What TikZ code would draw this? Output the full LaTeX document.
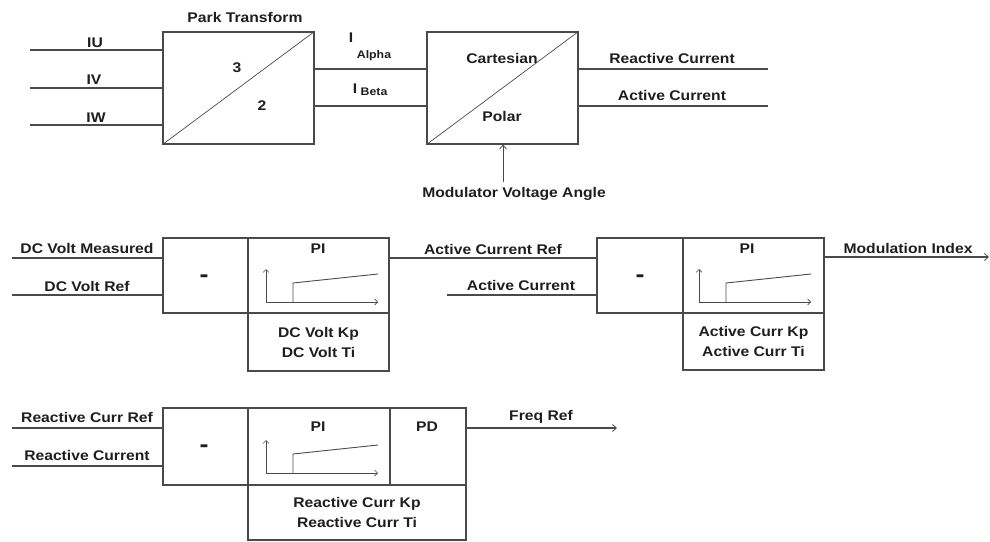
\documentclass[tikz,border=0pt]{standalone}
\usepackage{fontspec}
\setmainfont{Liberation Sans}[FakeStretch=1.12]
\usetikzlibrary{arrows.meta}
\definecolor{linec}{HTML}{4A4A4A}
\definecolor{txtc}{HTML}{1E1E1E}
\newcommand\mypigraph[2]{%
  \begin{scope}[shift={(#1,#2)}]
    \draw[thin, draw=linec, -{Straight Barb[length=3pt,width=6pt,line width=0.6pt]}] (0,0) -- (0,-33);
    \draw[thin, draw=linec, -{Straight Barb[length=3pt,width=6pt,line width=0.6pt]}] (0,0) -- (112,0);
    \draw[line width=0.9pt, draw=linec] (27,0) -- (27,-19) -- (112,-28);
  \end{scope}}
\begin{document}
\begin{tikzpicture}[x=1pt,y=-1pt,
  font=\fontsize{14}{20}\selectfont\bfseries,
  ln/.style={draw=linec, line width=1.1pt},
  blk/.style={draw=linec, line width=1.1pt, rectangle, inner sep=0pt, align=center, text=txtc},
  lbl/.style={text=txtc, inner sep=0pt},
  minus/.style={text=txtc, inner sep=0pt, font=\fontsize{24}{24}\selectfont\bfseries},
  sub/.style={text=txtc, inner sep=0pt, font=\fontsize{11}{13}\selectfont\bfseries},
  arr/.style={-{Straight Barb[length=4pt,width=7pt,line width=0.8pt]}}]
\useasboundingbox (0,0) rectangle (990,541);

% ---------------- top row ----------------
\node[blk, minimum width=151pt, minimum height=112pt] (park) at (238.5,88) {};
\draw[draw=linec, line width=0.7pt] (park.south west) -- (park.north east);
\node[lbl] (parkt) at (245,17) {Park Transform};
\node[lbl] (three) at (237,68) {3};
\node[lbl] (two) at (262,106) {2};

\coordinate (iu) at (30,50);
\coordinate (iv) at (30,88);
\coordinate (iw) at (30,125);
\draw[ln] (iu) -- (iu -| park.west);
\draw[ln] (iv) -- (iv -| park.west);
\draw[ln] (iw) -- (iw -| park.west);
\node[lbl] (iut) at (95,43) {IU};
\node[lbl] (ivt) at (94,80) {IV};
\node[lbl] (iwt) at (96,118) {IW};

\node[blk, minimum width=151pt, minimum height=112pt] (cart) at (502.5,88) {};
\draw[draw=linec, line width=0.7pt] (cart.south west) -- (cart.north east);
\node[lbl] (cartt) at (502,58) {Cartesian};
\node[lbl] (polt) at (502,116) {Polar};

\coordinate (ya) at (0,69);
\coordinate (yb) at (0,106);
\draw[ln] (park.east |- ya) -- (cart.west |- ya);
\draw[ln] (park.east |- yb) -- (cart.west |- yb);
\node[lbl] (ia) at (351,38) {I};
\node[sub] (iasub) at (374,56) {Alpha};
\node[lbl] (ib) at (355,89) {I};
\node[sub] (ibsub) at (374,92) {Beta};

\coordinate (rc) at (768,69);
\coordinate (ac) at (768,106);
\draw[ln] (cart.east |- rc) -- (rc);
\draw[ln] (cart.east |- ac) -- (ac);
\node[lbl] (rct) at (672,58) {Reactive Current};
\node[lbl] (act) at (672,95) {Active Current};

\coordinate (mva) at (503,182);
\draw[draw=linec, line width=0.8pt, arr] (mva) -- (mva |- cart.south);
\node[lbl] (mvat) at (514,194) {Modulator Voltage Angle};

% ---------------- middle row, block 1 ----------------
\node[blk, minimum width=85pt, minimum height=75pt] (sub1) at (205.5,275.5) {};
\node[minus] (sub1t) at (204,279) {-};
\node[blk, minimum width=141pt, minimum height=75pt] (pi1) at (318.5,275.5) {};
\node[blk, minimum width=141pt, minimum height=58pt] (par1) at (318.5,342) {DC Volt Kp\\DC Volt Ti};
\node[lbl] (pi1t) at (318,249) {PI};
\mypigraph{266}{302}

\coordinate (dcm) at (12,258);
\coordinate (dcr) at (12,295);
\draw[ln] (dcm) -- (dcm -| sub1.west);
\draw[ln] (dcr) -- (dcr -| sub1.west);
\node[lbl] (dcmt) at (87,248) {DC Volt Measured};
\node[lbl] (dcrt) at (87,286) {DC Volt Ref};

% ---------------- middle row, block 2 ----------------
\node[blk, minimum width=86pt, minimum height=75pt] (sub2) at (640,275.5) {};
\node[minus] (sub2t) at (640,279) {-};
\node[blk, minimum width=141pt, minimum height=75pt] (pi2) at (753.5,275.5) {};
\node[blk, minimum width=141pt, minimum height=57pt] (par2) at (753.5,341.5) {Active Curr Kp\\Active Curr Ti};
\node[lbl] (pi2t) at (747,249) {PI};
\mypigraph{699}{302}

\draw[ln] (pi1.east |- dcm) -- (sub2.west |- dcm);
\node[lbl] (acrt) at (493,249) {Active Current Ref};
\coordinate (acin) at (447,295);
\draw[ln] (acin) -- (acin -| sub2.west);
\node[lbl] (acint) at (521,285) {Active Current};

\coordinate (mi) at (989,257);
\draw[ln, arr] (pi2.east |- mi) -- (mi);
\node[lbl] (mit) at (908,248) {Modulation Index};

% ---------------- bottom row ----------------
\node[blk, minimum width=85pt, minimum height=77pt] (sub3) at (205.5,446.5) {};
\node[minus] (sub3t) at (204,449) {-};
\node[blk, minimum width=142pt, minimum height=77pt] (pi3) at (319,446.5) {};
\node[blk, minimum width=76pt, minimum height=77pt] (pd3) at (428,446.5) {};
\node[blk, minimum width=218pt, minimum height=55pt] (par3) at (357,512.5) {Reactive Curr Kp\\Reactive Curr Ti};
\node[lbl] (pi3t) at (318,427) {PI};
\node[lbl] (pd3t) at (427,427) {PD};
\mypigraph{266}{473}

\coordinate (rcr) at (12,428);
\coordinate (rcc) at (12,466);
\draw[ln] (rcr) -- (rcr -| sub3.west);
\draw[ln] (rcc) -- (rcc -| sub3.west);
\node[lbl] (rcrt) at (87,417) {Reactive Curr Ref};
\node[lbl] (rcct) at (87,455) {Reactive Current};

\coordinate (fr) at (617,428);
\draw[ln, arr] (pd3.east |- fr) -- (fr);
\node[lbl] (frt) at (541,417) {Freq Ref};
\end{tikzpicture}
\end{document}
